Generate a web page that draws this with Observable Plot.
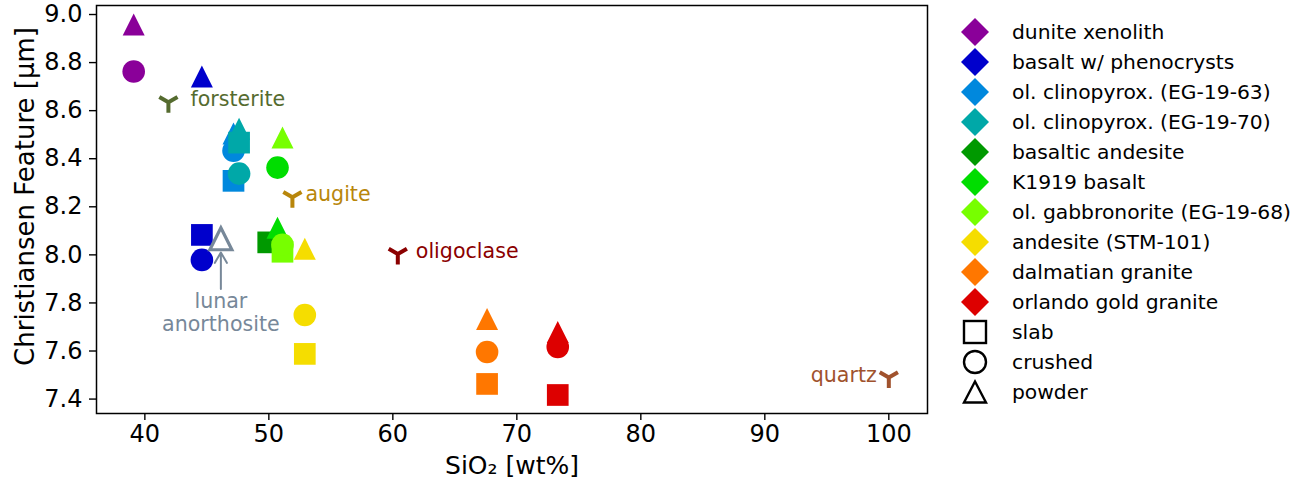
<!DOCTYPE html>
<html>
<head>
<meta charset="utf-8">
<script src="https://cdn.jsdelivr.net/npm/d3@7"></script>
<script src="https://cdn.jsdelivr.net/npm/@observablehq/plot@0.6"></script>
<style>
  body { margin: 0; background: #fff; font-family: "DejaVu Sans", sans-serif; }
  #wrap { position: relative; width: 1305px; height: 484px; overflow: hidden; }
  #chart { position: absolute; left: 0; top: 0; }
  #legend { position: absolute; left: 960px; top: 16.7px; }
  .row { display: flex; align-items: center; height: 30px; font-size: 20.3px; color: #000; white-space: nowrap; }
  .row svg { width: 30px; height: 30px; margin-right: 22px; flex: none; }
</style>
</head>
<body>
<div id="wrap"><div id="chart"></div><div id="legend"></div></div>
<script>
// ---- data ----
const samples = ["dunite xenolith", "basalt w/ phenocrysts", "ol. clinopyrox. (EG-19-63)", "ol. clinopyrox. (EG-19-70)", "basaltic andesite", "K1919 basalt", "ol. gabbronorite (EG-19-68)", "andesite (STM-101)", "dalmatian granite", "orlando gold granite"];
const sampleColors = ["#8a0099", "#0000cc", "#0088dd", "#00a8a8", "#009900", "#00dd00", "#77ff00", "#f5dd00", "#ff7700", "#dd0000"];
const sampleSiO2 = [39.1, 44.6, 47.15, 47.6, 49.95, 50.7, 51.1, 52.9, 67.6, 73.3];
const slabCF =    [null, 8.083, 8.308, 8.467, 8.052, null, 8.013, 7.588, 7.463, 7.417];
const crushedCF = [8.763, 7.979, 8.433, 8.338, null, 8.363, 8.042, 7.75, 7.596, 7.617];
const powderCF =  [8.958, 8.742, 8.505, 8.525, null, 8.113, 8.488, 8.025, 7.733, 7.679];
const preps = ["slab", "crushed", "powder"];

const minerals = ["forsterite", "augite", "oligoclase", "quartz"];
const mineralSiO2 = [41.9, 51.9, 60.4, 100.0];
const mineralCF = [8.635, 8.24, 8.004, 7.49];
const mineralColors = ["#556b2f", "#b8860b", "#8b0000", "#a0522d"];

const lunarName = "lunar\nanorthosite";
const lunarSiO2 = 46.13;
const lunarCF = 8.067;
const lunarLabelCF = 7.76;
const lunarArrowFrom = 7.858;
const lunarArrowTo = 8.01;

const xTicks = [40, 50, 60, 70, 80, 90, 100];
const yTicks = [7.4, 7.6, 7.8, 8.0, 8.2, 8.4, 8.6, 8.8, 9.0];
const xLabel = "SiO\u2082 [wt%]";
const yLabel = "Christiansen Feature [\u03bcm]";

// ---- build table ----
const prepCF = {slab: slabCF, crushed: crushedCF, powder: powderCF};
const points = [];
samples.forEach((s, i) => {
  preps.forEach(p => {
    const v = prepCF[p][i];
    if (v != null) points.push({sample: s, prep: p, sio2: sampleSiO2[i], cf: v});
  });
});
const mineralData = minerals.map((m, i) => ({name: m, sio2: mineralSiO2[i], cf: mineralCF[i], color: mineralColors[i]}));

// ---- symbols (matplotlib-like) ----
const rad = size => Math.sqrt(size / Math.PI);
const symSquare = {draw(ctx, size) { const r = rad(size); ctx.moveTo(-r, -r); ctx.lineTo(r, -r); ctx.lineTo(r, r); ctx.lineTo(-r, r); ctx.closePath(); }};
const symCircle = {draw(ctx, size) { const r = rad(size); ctx.moveTo(r, 0); ctx.arc(0, 0, r, 0, 2 * Math.PI); ctx.closePath(); }};
const symTri = {draw(ctx, size) { const r = rad(size); ctx.moveTo(0, -r); ctx.lineTo(r, r); ctx.lineTo(-r, r); ctx.closePath(); }};
const symY = {draw(ctx, size) { const r = rad(size); ctx.moveTo(0, 0); ctx.lineTo(0, r); ctx.moveTo(0, 0); ctx.lineTo(-0.866 * r, -0.5 * r); ctx.moveTo(0, 0); ctx.lineTo(0.866 * r, -0.5 * r); }};
const prepSymbol = {slab: symSquare, crushed: symCircle, powder: symTri};
const prepR = {slab: 10.85, crushed: 11.3, powder: 11};

const sampleMarks = samples.flatMap(s => preps.map(p =>
  Plot.dot(points.filter(d => d.sample === s && d.prep === p), {
    x: "sio2", y: "cf", fill: "sample", stroke: "none", symbol: prepSymbol[p], r: prepR[p]
  })
));

const mineralOffsets = {forsterite: [22, -3, "start"], augite: [13, -3, "start"], oligoclase: [18, -2, "start"], quartz: [-12, -2, "end"]};

const chart = Plot.plot({
  width: 930,
  height: 484,
  marginLeft: 96,
  marginRight: 3,
  marginTop: 5,
  marginBottom: 71,
  style: {fontFamily: "DejaVu Sans, sans-serif", fontSize: "20px", color: "#000", background: "#fff"},
  x: {domain: [36.1, 103.12]},
  y: {domain: [7.34, 9.0375]},
  color: {domain: samples, range: sampleColors},
  marks: [
    Plot.axisX({ticks: xTicks, tickSize: 7, tickPadding: 4, strokeWidth: 1.4, label: null, tickFormat: d => String(d), fontSize: 24}),
    Plot.axisY({ticks: yTicks, tickSize: 7, tickPadding: 7, strokeWidth: 1.4, label: null, tickFormat: d => d.toFixed(1), fontSize: 24}),
    ...sampleMarks,
    Plot.dot(mineralData, {x: "sio2", y: "cf", stroke: "color", fill: "none", strokeWidth: 4, r: 10.5, symbol: symY}),
    ...mineralData.map(d => Plot.text([d], {x: "sio2", y: "cf", text: "name", fill: d.color, dx: mineralOffsets[d.name][0], dy: mineralOffsets[d.name][1], textAnchor: mineralOffsets[d.name][2], fontSize: 20.6})),
    Plot.dot([{sio2: lunarSiO2, cf: lunarCF}], {x: "sio2", y: "cf", symbol: symTri, r: 11, fill: "none", stroke: "#778899", strokeWidth: 3.2}),
    Plot.arrow([{x: lunarSiO2, y1: lunarArrowFrom, y2: lunarArrowTo}], {x: "x", y1: "y1", y2: "y2", stroke: "#778899", strokeWidth: 2, headLength: 9}),
    Plot.text([lunarName], {x: lunarSiO2, y: lunarLabelCF, text: d => d, fill: "#778899", fontSize: 20.6, lineHeight: 1.12}),
    Plot.frame({stroke: "#000", strokeWidth: 1.5}),
    Plot.text([xLabel], {frameAnchor: "bottom", dy: 60, text: d => d, fontSize: 25, textAnchor: "middle"}),
    Plot.text([yLabel], {frameAnchor: "left", dx: -71, dy: -13, rotate: -90, text: d => d, fontSize: 26, textAnchor: "middle"})
  ]
});
document.getElementById("chart").appendChild(chart);

// ---- legend ----
const legend = document.getElementById("legend");
samples.forEach((s, i) => {
  const row = document.createElement("div");
  row.className = "row";
  row.innerHTML = `<svg viewBox="0 0 30 30"><polygon points="15,1 29,15 15,29 1,15" fill="${sampleColors[i]}"/></svg><span></span>`;
  row.querySelector("span").textContent = s;
  legend.appendChild(row);
});
const prepIcons = {
  slab: `<rect x="4" y="4" width="22" height="22" fill="none" stroke="#000" stroke-width="2.4"/>`,
  crushed: `<circle cx="15" cy="15" r="11" fill="none" stroke="#000" stroke-width="2.4"/>`,
  powder: `<polygon points="15,4.5 26,25.5 4,25.5" fill="none" stroke="#000" stroke-width="2.4" stroke-linejoin="miter"/>`
};
preps.forEach(p => {
  const row = document.createElement("div");
  row.className = "row";
  row.innerHTML = `<svg viewBox="0 0 30 30">${prepIcons[p]}</svg><span></span>`;
  row.querySelector("span").textContent = p;
  legend.appendChild(row);
});
</script>
</body>
</html>
